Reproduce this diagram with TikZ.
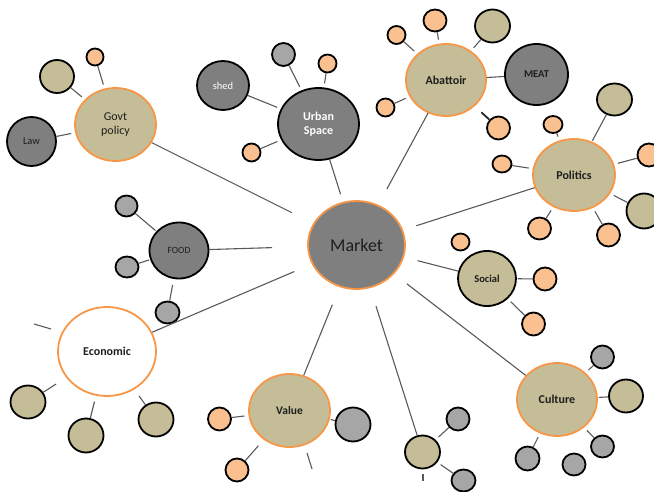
\documentclass[tikz,border=0pt]{standalone}
\usepackage{fontspec}
\setmainfont{Carlito}
\usetikzlibrary{shapes.geometric}
\definecolor{tanf}{RGB}{196,189,151}
\definecolor{obord}{RGB}{247,150,70}
\definecolor{ofill}{RGB}{250,192,144}
\definecolor{dgray}{RGB}{127,127,127}
\definecolor{lgray}{RGB}{166,166,166}
\definecolor{linec}{RGB}{89,89,89}
\definecolor{txt}{RGB}{30,30,30}
\begin{document}
\begin{tikzpicture}[x=1pt,y=-1pt,
  bub/.style={ellipse,inner sep=0pt,line width=1.8pt,align=center,text=txt},
  bigO/.style={bub,draw=obord,fill=tanf},
  tanB/.style={bub,draw=black,fill=tanf},
  orB/.style={bub,draw=black,fill=ofill},
  lgB/.style={bub,draw=black,fill=lgray},
  dgB/.style={bub,draw=black,fill=dgray},
  sz/.style 2 args={minimum width=#1pt,minimum height=#2pt},
  link/.style={draw=linec,line width=1.1pt},
  stub/.style={link,shorten >=4pt}]
\useasboundingbox (0,0) rectangle (654,492);

% central node
\node[bub,draw=obord,fill=dgray,sz={97}{88},font=\fontsize{18}{20}\selectfont] (market) at (356.5,245) {Market};

% Govt policy cluster
\node[bigO,sz={81}{73},font=\fontsize{12}{14}\selectfont] (govt) at (115.5,124.5) {Govt\\policy};
\node[tanB,sz={34}{33}] (govtA) at (57,76.5) {};
\node[orB,sz={17}{17}] (govtB) at (95,57) {};
\node[dgB,sz={49}{49},font=\fontsize{10.5}{12}\selectfont] (law) at (31.5,141.5) {Law};

% Urban space cluster
\node[dgB,sz={81}{72},text=white,font=\bfseries\fontsize{12}{14}\selectfont] (urban) at (318.5,124) {Urban\\Space};
\node[dgB,sz={52}{49},text=white,font=\fontsize{10.5}{12}\selectfont] (shed) at (223,85.5) {shed};
\node[lgB,sz={23}{23}] (urbA) at (283.5,54.5) {};
\node[orB,sz={18}{18}] (urbB) at (327.5,63.5) {};
\node[orB,sz={18}{18}] (urbC) at (251.5,152.5) {};

% Abattoir cluster
\node[bigO,sz={80}{72},font=\bfseries\fontsize{12}{14}\selectfont] (abat) at (446,80) {Abattoir};
\node[orB,sz={18}{18}] (abA) at (396.5,35) {};
\node[orB,sz={23}{22}] (abB) at (435,20.5) {};
\node[tanB,sz={35}{33}] (abC) at (492.5,26) {};
\node[dgB,sz={63}{61},font=\bfseries\fontsize{10.5}{12}\selectfont] (meat) at (536.5,74.5) {MEAT};
\node[orB,sz={18}{18}] (abD) at (385.5,107.5) {};
\node[orB,sz={23}{23}] (abE) at (498.5,128) {};

% Politics cluster
\node[bigO,sz={82}{72},font=\bfseries\fontsize{12}{14}\selectfont] (pol) at (574,175) {Politics};
\node[orB,sz={19}{17}] (polA) at (553,124.5) {};
\node[tanB,sz={35}{32}] (polB) at (614.5,99.5) {};
\node[orB,sz={23}{23}] (polC) at (649,155) {};
\node[orB,sz={19}{17}] (polD) at (502,164) {};
\node[tanB,sz={35}{35}] (polE) at (644,211) {};
\node[orB,sz={23}{22}] (polF) at (539.5,228.5) {};
\node[orB,sz={23}{23}] (polG) at (608.5,235) {};

% Social cluster
\node[tanB,sz={58}{55},font=\bfseries\fontsize{10.5}{12}\selectfont] (social) at (487,278.5) {Social};
\node[orB,sz={18}{17}] (socA) at (460.5,242) {};
\node[orB,sz={23}{23}] (socB) at (545,279) {};
\node[orB,sz={23}{23}] (socC) at (533.5,324) {};

% Culture cluster
\node[bigO,sz={80}{73},font=\bfseries\fontsize{12}{14}\selectfont] (culture) at (557,399.5) {Culture};
\node[lgB,sz={23}{23}] (culA) at (602.5,357) {};
\node[tanB,sz={34}{33}] (culB) at (626,396) {};
\node[lgB,sz={24}{24}] (culC) at (527.5,458.5) {};
\node[lgB,sz={23}{22}] (culD) at (574,464.5) {};
\node[lgB,sz={23}{22}] (culE) at (602.5,446.5) {};

% Value cluster
\node[bigO,sz={81}{73},font=\bfseries\fontsize{11.5}{13}\selectfont] (value) at (289.5,410.5) {Value};
\node[orB,sz={23}{23}] (valA) at (219.5,419) {};
\node[orB,sz={23}{23}] (valB) at (237,470) {};
\node[lgB,sz={35}{34}] (valC) at (353,424.5) {};

% bottom tan cluster
\node[tanB,sz={35}{33}] (btan) at (422.5,452) {};
\node[lgB,sz={23}{23}] (btA) at (458,419) {};
\node[lgB,sz={24}{22}] (btB) at (463.5,480.5) {};

% Economic cluster
\node[bub,draw=obord,fill=white,sz={98}{89},font=\bfseries\fontsize{12}{14}\selectfont] (econ) at (107,351.5) {Economic};
\node[tanB,sz={35}{33}] (ecA) at (28,402) {};
\node[tanB,sz={35}{34}] (ecB) at (86,435.5) {};
\node[tanB,sz={35}{34}] (ecC) at (156,419.5) {};

% FOOD cluster
\node[dgB,sz={59}{56},font=\fontsize{9.5}{11}\selectfont] (food) at (179,250.5) {FOOD};
\node[lgB,sz={22}{21}] (fdA) at (126.5,206) {};
\node[lgB,sz={23}{21}] (fdB) at (127,267) {};
\node[lgB,sz={24}{22}] (fdC) at (167.5,312.5) {};

% dangling ends
\coordinate (d1a) at (34,324);
\coordinate (d1b) at (51,329);
\coordinate (d2a) at (307,453);
\coordinate (d2b) at (312,469);
\coordinate (d3a) at (423,474);
\coordinate (d3b) at (423,481);

% links to the market
\draw[link,shorten >=24pt] (govt) -- (market);
\draw[link,shorten >=8pt] (urban) -- (market);
\draw[link,shorten >=18pt] (abat) -- (market);
\draw[link,shorten >=14pt] (pol) -- (market);
\draw[link,shorten >=14pt] (social) -- (market);
\draw[link,shorten >=16pt] (culture) -- (market);
\draw[link,shorten >=19pt] (value) -- (market);
\draw[link,shorten >=19pt] (btan) -- (market);
\draw[link,shorten >=19pt] (econ) -- (market);
\draw[link,shorten >=35pt] (food) -- (market);

% stubs
\draw[stub] (govtA) -- (govt);
\draw[stub] (govtB) -- (govt);
\draw[stub] (law) -- (govt);
\draw[stub] (shed) -- (urban);
\draw[stub] (urbA) -- (urban);
\draw[stub] (urbB) -- (urban);
\draw[stub] (urbC) -- (urban);
\draw[stub] (abA) -- (abat);
\draw[stub] (abB) -- (abat);
\draw[stub] (abC) -- (abat);
\draw[link,shorten >=0pt] (meat) -- (abat);
\draw[stub] (abD) -- (abat);
\draw[link,draw=black!85,line width=1.8pt,shorten >=9pt] (abE) -- (abat);
\draw[stub] (polA) -- (pol);
\draw[stub,shorten >=1pt] (polB) -- (pol);
\draw[stub] (polC) -- (pol);
\draw[stub] (polD) -- (pol);
\draw[stub] (polE) -- (pol);
\draw[stub] (polF) -- (pol);
\draw[stub] (polG) -- (pol);
\draw[stub,shorten >=1pt] (socB) -- (social);
\draw[stub] (socC) -- (social);
\draw[stub] (culA) -- (culture);
\draw[stub,shorten >=1pt] (culB) -- (culture);
\draw[stub] (culC) -- (culture);
\draw[stub] (culE) -- (culture);
\draw[stub] (valA) -- (value);
\draw[stub,shorten >=8pt] (valB) -- (value);
\draw[stub,shorten >=1pt] (valC) -- (value);
\draw[stub] (btA) -- (btan);
\draw[stub] (btB) -- (btan);
\draw[stub,shorten >=12pt] (ecA) -- (econ);
\draw[stub,shorten >=6pt] (ecB) -- (econ);
\draw[stub,shorten >=8pt] (ecC) -- (econ);
\draw[stub,shorten >=1pt] (fdA) -- (food);
\draw[stub,shorten >=1pt] (fdB) -- (food);
\draw[stub,shorten >=6pt] (fdC) -- (food);
\draw[link] (d1a) -- (d1b);
\draw[link] (d2a) -- (d2b);
\draw[link] (d3a) -- (d3b);
\end{tikzpicture}
\end{document}
